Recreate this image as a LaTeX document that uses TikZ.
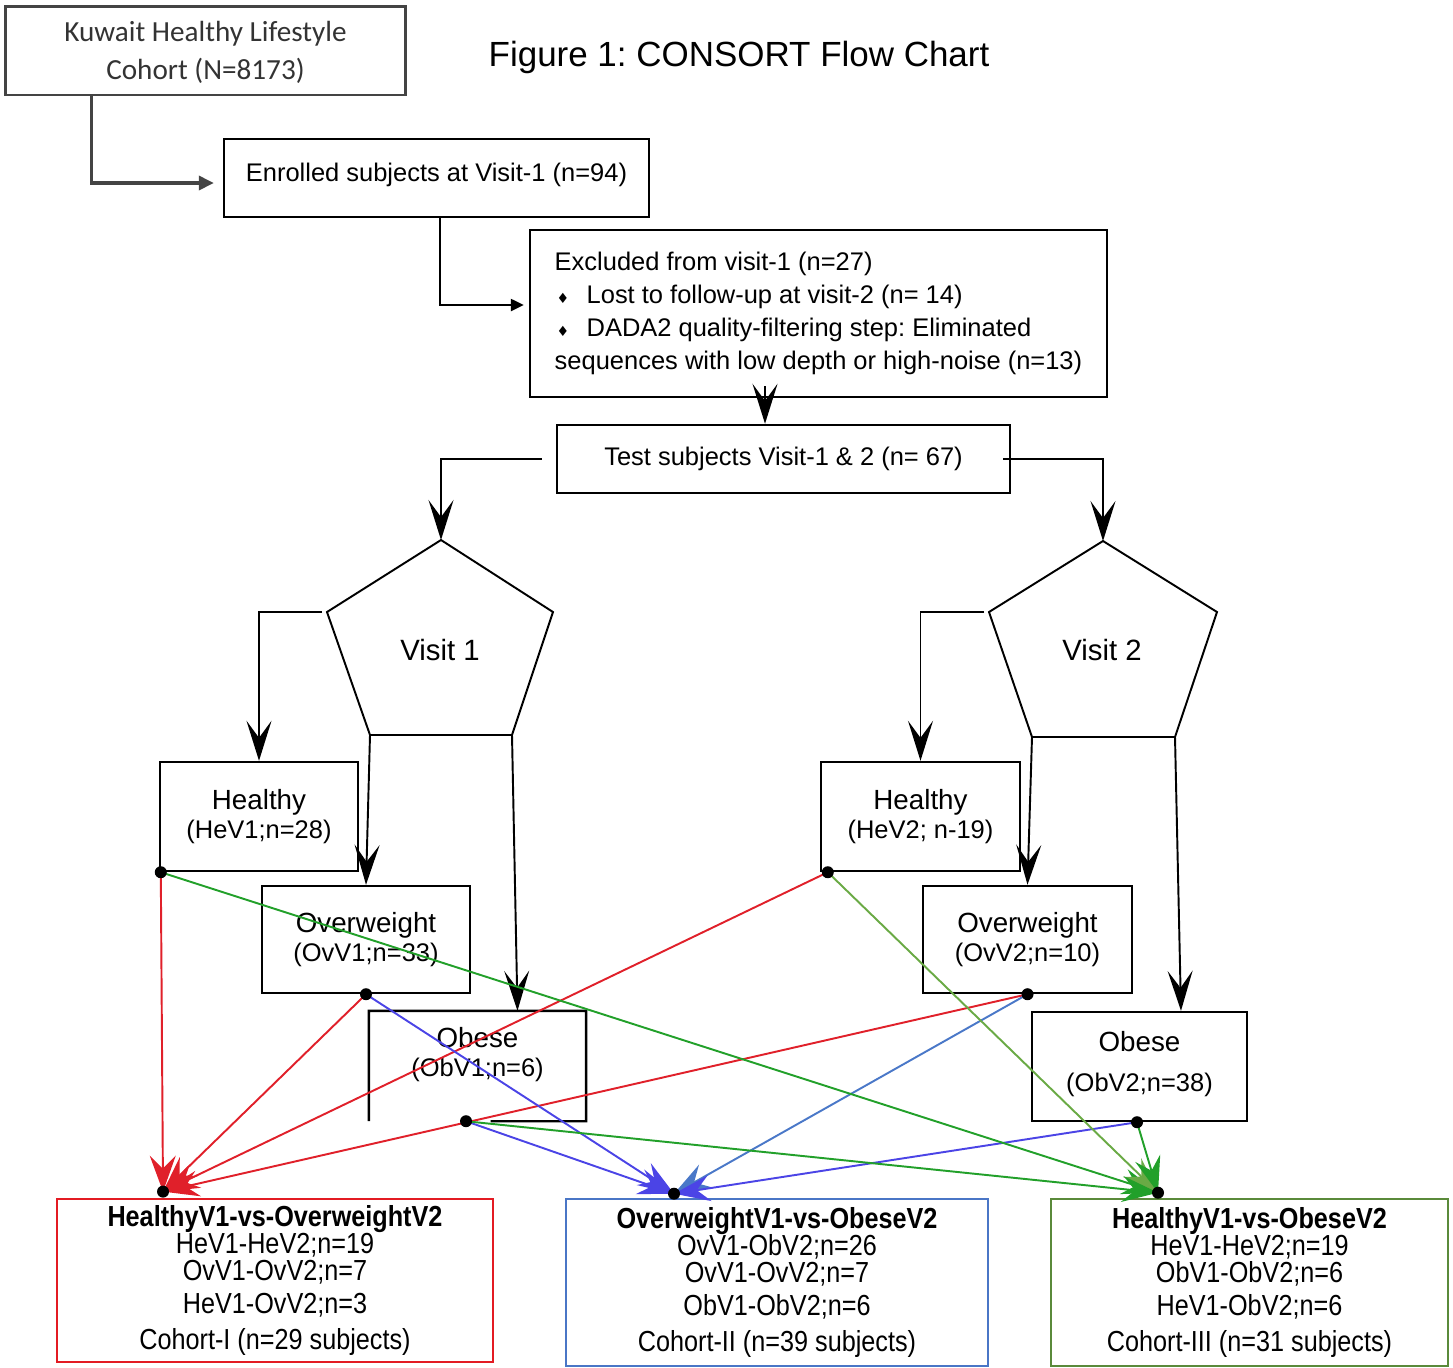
\documentclass[tikz,border=0pt]{standalone}
\usepackage{fontspec}
\setmainfont{Liberation Sans}
\newfontfamily\kuwaitfont{Carlito}
\newfontfamily\narrowfont{Liberation Sans}[FakeStretch=0.87]
\newfontfamily\bulletfont{DejaVu Sans}
\usepackage{tikz}
\usetikzlibrary{arrows.meta, calc}
\usepackage{xcolor}
\frenchspacing

\definecolor{boxgrey}{HTML}{444444}
\definecolor{kuwaitgrey}{HTML}{333333}
\definecolor{cohortred}{HTML}{E31B23}
\definecolor{cohortblue}{HTML}{4A76C6}
\definecolor{cohortgreen}{HTML}{5A8A3A}
\definecolor{linered}{HTML}{E0202A}
\definecolor{lineviolet}{HTML}{4B44E6}
\definecolor{lineblue}{HTML}{4A78C8}
\definecolor{linegreen}{HTML}{22A02A}
\definecolor{lineolive}{HTML}{6AAA45}

\newcommand{\groupname}[1]{{\fontsize{15.8}{17}\selectfont #1}}
\newcommand{\bull}{\hspace*{1pt}{\bulletfont\fontsize{8}{8}\selectfont ♦}\hspace{10pt}}
\newcommand{\cohortfont}{\narrowfont\fontsize{16.5}{15.5}\selectfont\lineskiplimit=-6pt\relax}

\begin{document}
\begin{tikzpicture}[x=0.02cm, y=-0.02cm,
  font=\fontsize{14.5}{17}\selectfont,
  box/.style 2 args={draw, line width=1.4pt, minimum width=#1, minimum height=#2,
    inner sep=0pt, align=center},
  cohorttext/.style={font=\cohortfont},
  flow/.style={line width=1.1pt, -{Stealth[length=0.8cm, width=0.5cm, inset=0.34cm]}},
  tie/.style={line width=1.1pt, -{Stealth[length=0.72cm, width=0.52cm, inset=0.26cm]}}]
  \useasboundingbox (0,0) rectangle (1453,1367);

  % top of the chart
  \node[box={8.02cm}{1.78cm}, draw=boxgrey, line width=1.7pt, text=kuwaitgrey,
    font=\kuwaitfont\fontsize{16.6}{21.6}\selectfont] (kuwait) at (205.5,50.5)
    {\rule{0pt}{14pt}Kuwait Healthy Lifestyle\\Cohort (N=8173)};
  \node[font=\fontsize{19.9}{24}\selectfont] (title) at (739,57) {Figure 1: CONSORT Flow Chart};

  \node[box={8.5cm}{1.56cm}] (enrolled) at (436.5,178) {Enrolled subjects at Visit-1 (n=94)\rule[-7pt]{0pt}{7pt}};
  \node[box={11.54cm}{3.34cm}, align=left,
    font=\fontsize{14.5}{18.8}\selectfont] (excluded) at (818.5,313.5)
    {Excluded from visit-1 (n=27)\\
     \bull Lost to follow-up at visit-2 (n= 14)\\
     \bull DADA2 quality-filtering step: Eliminated\\
     sequences with low depth or high-noise (n=13)};
  \node[box={9.06cm}{1.36cm}] (test) at (783.5,459) {Test subjects Visit-1 \& 2 (n= 67)};

  \draw[boxgrey, line width=2pt, -{Triangle[length=0.3cm, width=0.28cm]}, shorten >=0.18cm]
    ([xshift=1.76cm]kuwait.south west) |- ([yshift=-0.1cm]enrolled.west);
  \draw[line width=1.3pt, -{Triangle[length=0.26cm, width=0.24cm]}, shorten >=0.1cm]
    ([xshift=0.07cm]enrolled.south) |- ([yshift=0.17cm]excluded.west);
  \draw[flow] ([xshift=-1.07cm, yshift=0.24cm]excluded.south) -- ([xshift=-0.37cm]test.north);

  % visit pentagons
  \coordinate (v1t) at (441,540);
  \coordinate (v1l) at (327,612);
  \coordinate (v1r) at (553,612);
  \coordinate (v1bl) at (370,735);
  \coordinate (v1br) at (512,735);
  \draw[line width=1.1pt] (v1t) -- (v1r) -- (v1br) -- (v1bl) -- (v1l) -- cycle;
  \node[font=\fontsize{16.7}{20}\selectfont] (v1) at (440,650) {Visit 1};

  \coordinate (v2t) at (1103,541);
  \coordinate (v2l) at (989,612);
  \coordinate (v2r) at (1217,612);
  \coordinate (v2bl) at (1032,737);
  \coordinate (v2br) at (1175,737);
  \draw[line width=1.1pt] (v2t) -- (v2r) -- (v2br) -- (v2bl) -- (v2l) -- cycle;
  \node[font=\fontsize{16.7}{20}\selectfont] (v2) at (1102,650) {Visit 2};

  \draw[flow] ([xshift=-0.28cm]test.west) -| (v1t);
  \draw[flow] ([xshift=-0.16cm]test.east) -| (v2t);

  % groups at each visit
  \node[box={3.96cm}{2.18cm}] (he1) at (259,816.5) {\groupname{Healthy}\\(HeV1;n=28)};
  \node[box={4.16cm}{2.14cm}] (ov1) at (366,939.5) {\groupname{Overweight}\\(OvV1;n=33)};
  \node[box={4.3cm}{2.16cm}, draw=none] (ob1) at (477.5,1066)
    {\groupname{Obese}\\(ObV1;n=6)\rule[-16pt]{0pt}{16pt}};
  \draw[line width=1.4pt] (ob1.south west) -- (ob1.north west) -- (ob1.north east)
    -- (ob1.south east) -- ($(ob1.south west)!0.56!(ob1.south east)$);

  \node[box={3.98cm}{2.18cm}] (he2) at (920.5,816.5) {\groupname{Healthy}\\(HeV2; n-19)};
  \node[box={4.18cm}{2.14cm}] (ov2) at (1027.5,939.5) {\groupname{Overweight}\\(OvV2;n=10)};
  \node[box={4.3cm}{2.18cm}] (ob2) at (1139.5,1066.5)
    {\groupname{Obese}\\[6pt](ObV2;n=38)\rule[-6pt]{0pt}{6pt}};

  \draw[flow] ([xshift=-0.1cm]v1l) -| (he1.north);
  \draw[flow] (v1bl) -- (ov1.north);
  \draw[flow] (v1br) -- ([xshift=0.8cm]ob1.north);
  \draw[flow] ([xshift=-0.1cm]v2l) -| (he2.north);
  \draw[flow] (v2bl) -- (ov2.north);
  \draw[flow] (v2br) -- ([xshift=0.83cm]ob2.north);

  % cohorts
  \node[box={8.72cm}{3.26cm}, draw=cohortred, line width=1.6pt, cohorttext] (c1) at (275,1280.5)
    {\textbf{HealthyV1-vs-OverweightV2}\\HeV1-HeV2;n=19\\OvV1-OvV2;n=7\\[3.3pt]
     HeV1-OvV2;n=3\\[5pt]Cohort-I (n=29 subjects)};
  \node[box={8.44cm}{3.34cm}, draw=cohortblue, line width=1.5pt, cohorttext] (c2) at (777,1282.5)
    {\textbf{OverweightV1-vs-ObeseV2}\\OvV1-ObV2;n=26\\OvV1-OvV2;n=7\\[3.3pt]
     ObV1-ObV2;n=6\\[5pt]Cohort-II (n=39 subjects)};
  \node[box={7.94cm}{3.34cm}, draw=cohortgreen, line width=1.5pt, cohorttext] (c3) at (1249.5,1282.5)
    {\textbf{HealthyV1-vs-ObeseV2}\\HeV1-HeV2;n=19\\ObV1-ObV2;n=6\\[3.3pt]
     HeV1-ObV2;n=6\\[5pt]Cohort-III (n=31 subjects)};

  \coordinate (he1out) at ([xshift=0.04cm]he1.south west);
  \coordinate (ov1out) at (ov1.south);
  \coordinate (ob1out) at ([xshift=-0.23cm]ob1.south);
  \coordinate (he2out) at ([xshift=0.16cm]he2.south west);
  \coordinate (ov2out) at (ov2.south);
  \coordinate (ob2out) at ([xshift=-0.05cm]ob2.south);
  \coordinate (c1in) at ([xshift=-2.24cm, yshift=0.12cm]c1.north);
  \coordinate (c2in) at ([xshift=-2.06cm, yshift=0.08cm]c2.north);
  \coordinate (c3in) at ([xshift=-1.83cm, yshift=0.1cm]c3.north);

  \draw[tie, linered] (he1out) -- (c1in);
  \draw[tie, linered] (ov1out) -- (c1in);
  \draw[tie, linered] (he2out) -- (c1in);
  \draw[tie, linered] (ov2out) -- (c1in);

  \draw[tie, lineviolet] (ov1out) -- (c2in);
  \draw[tie, lineviolet] (ob1out) -- (c2in);
  \draw[tie, lineblue] (ov2out) -- (c2in);
  \draw[tie, lineviolet] (ob2out) -- (c2in);

  \draw[tie, linegreen] (he1out) -- (c3in);
  \draw[tie, lineolive] (he2out) -- (c3in);
  \draw[tie, linegreen] (ob1out) -- (c3in);
  \draw[tie, linegreen] (ob2out) -- (c3in);

  \fill (he1out) circle (0.12cm);
  \fill (ov1out) circle (0.12cm);
  \fill (ob1out) circle (0.12cm);
  \fill (he2out) circle (0.12cm);
  \fill (ov2out) circle (0.12cm);
  \fill (ob2out) circle (0.12cm);
  \fill (c1in) circle (0.12cm);
  \fill (c2in) circle (0.12cm);
  \fill (c3in) circle (0.12cm);
\end{tikzpicture}
\end{document}
